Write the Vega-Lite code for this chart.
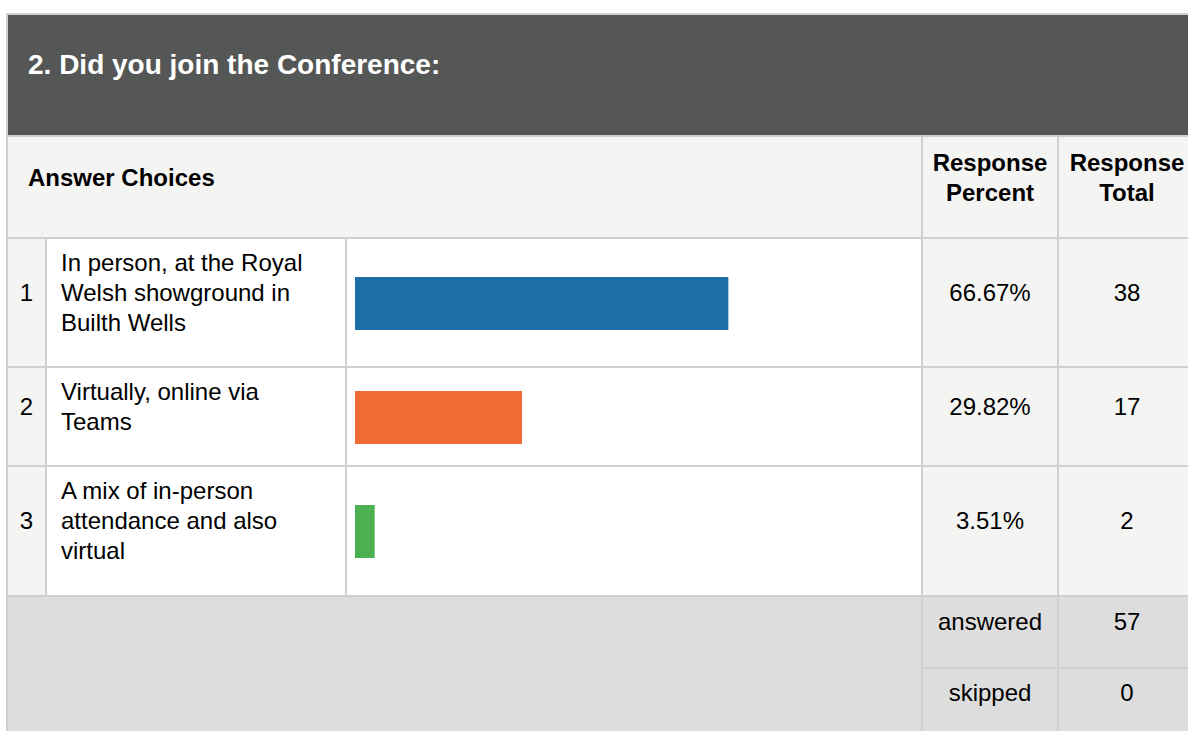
{
  "$schema": "https://vega.github.io/schema/vega-lite/v6.json",
  "width": 1181,
  "height": 717,
  "autosize": {"type": "none"},
  "padding": {"left": 7, "top": 14, "right": 0, "bottom": 0},
  "background": "white",
  "config": {"view": {"stroke": null}, "text": {"font": "Liberation Sans"}},
  "datasets": {
    "grid": [
      {"r0": 0, "r1": 1, "c0": 0, "c1": 5, "kind": "title"},
      {"r0": 1, "r1": 2, "c0": 0, "c1": 3, "kind": "head"},
      {"r0": 1, "r1": 2, "c0": 3, "c1": 4, "kind": "head"},
      {"r0": 1, "r1": 2, "c0": 4, "c1": 5, "kind": "head"},
      {"r0": 2, "r1": 3, "c0": 0, "c1": 1, "kind": "head"},
      {"r0": 2, "r1": 3, "c0": 1, "c1": 2, "kind": "body"},
      {"r0": 2, "r1": 3, "c0": 2, "c1": 3, "kind": "body"},
      {"r0": 2, "r1": 3, "c0": 3, "c1": 4, "kind": "head"},
      {"r0": 2, "r1": 3, "c0": 4, "c1": 5, "kind": "head"},
      {"r0": 3, "r1": 4, "c0": 0, "c1": 1, "kind": "head"},
      {"r0": 3, "r1": 4, "c0": 1, "c1": 2, "kind": "body"},
      {"r0": 3, "r1": 4, "c0": 2, "c1": 3, "kind": "body"},
      {"r0": 3, "r1": 4, "c0": 3, "c1": 4, "kind": "head"},
      {"r0": 3, "r1": 4, "c0": 4, "c1": 5, "kind": "head"},
      {"r0": 4, "r1": 5, "c0": 0, "c1": 1, "kind": "head"},
      {"r0": 4, "r1": 5, "c0": 1, "c1": 2, "kind": "body"},
      {"r0": 4, "r1": 5, "c0": 2, "c1": 3, "kind": "body"},
      {"r0": 4, "r1": 5, "c0": 3, "c1": 4, "kind": "head"},
      {"r0": 4, "r1": 5, "c0": 4, "c1": 5, "kind": "head"},
      {"r0": 5, "r1": 7, "c0": 0, "c1": 3, "kind": "summary"},
      {"r0": 5, "r1": 6, "c0": 3, "c1": 4, "kind": "summary"},
      {"r0": 5, "r1": 6, "c0": 4, "c1": 5, "kind": "summary"},
      {"r0": 6, "r1": 7, "c0": 3, "c1": 4, "kind": "summary"},
      {"r0": 6, "r1": 7, "c0": 4, "c1": 5, "kind": "summary"}
    ],
    "title": [{"r": 0, "text": "2. Did you join the Conference:"}],
    "headLeft": [{"r": 1, "text": "Answer Choices"}],
    "headCenter": [
      {"r": 1, "c": 3, "text": "Response\nPercent"},
      {"r": 1, "c": 4, "text": "Response\nTotal"}
    ],
    "choices": [
      {"row": 2, "id": 1, "choice": "In person, at the Royal\nWelsh showground in\nBuilth Wells", "percent": 0.6667, "total": 38},
      {"row": 3, "id": 2, "choice": "Virtually, online via\nTeams", "percent": 0.2982, "total": 17},
      {"row": 4, "id": 3, "choice": "A mix of in-person\nattendance and also\nvirtual", "percent": 0.0351, "total": 2}
    ],
    "summary": [
      {"r": 5, "label": "answered", "value": 57},
      {"r": 6, "label": "skipped", "value": 0}
    ]
  },
  "resolve": {"scale": {"x": "independent", "y": "independent", "color": "independent"}},
  "layer": [
    {
      "data": {"name": "grid"},
      "mark": {"type": "rect", "stroke": "#d0d0d0", "strokeWidth": 2},
      "encoding": {
        "x": {"field": "c0", "type": "quantitative", "axis": null, "scale": {"domain": [0, 1, 2, 3, 4, 5], "range": [0, 39, 339, 915, 1051, 1189], "zero": false, "nice": false}},
        "x2": {"field": "c1"},
        "y": {"field": "r0", "type": "quantitative", "axis": null, "scale": {"domain": [0, 1, 2, 3, 4, 5, 6, 7], "range": [0, 122, 224, 353, 452, 582, 654, 722], "zero": false, "nice": false}},
        "y2": {"field": "r1"},
        "color": {"field": "kind", "type": "nominal", "legend": null, "scale": {"domain": ["title", "head", "body", "summary"], "range": ["#555756", "#f4f4f3", "#ffffff", "#dddddd"]}}
      }
    },
    {
      "data": {"name": "choices"},
      "mark": {"type": "bar", "height": 53},
      "encoding": {
        "x": {"field": "percent", "type": "quantitative", "axis": null, "scale": {"domain": [0, 1], "range": [348, 908], "nice": false}},
        "y": {"field": "id", "type": "nominal", "axis": null, "scale": {"domain": [1, 2, 3], "range": [232.5, 574.5], "paddingInner": 0, "paddingOuter": 0}},
        "color": {"field": "id", "type": "nominal", "legend": null, "scale": {"domain": [1, 2, 3], "range": ["#1d6ea5", "#f26a35", "#4caf50"]}}
      }
    },
    {
      "data": {"name": "title"},
      "mark": {"type": "text", "align": "left", "baseline": "middle", "fontSize": 28, "fontWeight": "bold", "color": "#ffffff"},
      "encoding": {
        "text": {"field": "text"},
        "x": {"datum": 0, "type": "quantitative", "axis": null, "scale": {"domain": [0, 1], "range": [21, 54], "nice": false, "zero": false}},
        "y": {"field": "r", "type": "quantitative", "axis": null, "scale": {"domain": [0, 1, 2, 3, 4, 5, 6], "range": [51.5, 164.5, 279.5, 394, 507.5, 608.5, 679.5], "zero": false, "nice": false}}
      }
    },
    {
      "data": {"name": "headLeft"},
      "mark": {"type": "text", "align": "left", "baseline": "middle", "fontSize": 24, "fontWeight": "bold", "color": "#000000"},
      "encoding": {
        "text": {"field": "text"},
        "x": {"datum": 0, "type": "quantitative", "axis": null, "scale": {"domain": [0, 1], "range": [21, 54], "nice": false, "zero": false}},
        "y": {"field": "r", "type": "quantitative", "axis": null, "scale": {"domain": [0, 1, 2, 3, 4, 5, 6], "range": [51.5, 164.5, 279.5, 394, 507.5, 608.5, 679.5], "zero": false, "nice": false}}
      }
    },
    {
      "data": {"name": "headCenter"},
      "mark": {"type": "text", "align": "center", "baseline": "middle", "fontSize": 24, "fontWeight": "bold", "color": "#000000", "lineBreak": "\n", "lineHeight": 30},
      "encoding": {
        "text": {"field": "text"},
        "x": {"field": "c", "type": "quantitative", "axis": null, "scale": {"domain": [0, 3, 4], "range": [19.5, 983, 1120], "nice": false, "zero": false}},
        "y": {"field": "r", "type": "quantitative", "axis": null, "scale": {"domain": [1, 2, 3, 4], "range": [149.5, 249.5, 378.5, 477.5], "zero": false, "nice": false}}
      }
    },
    {
      "data": {"name": "choices"},
      "mark": {"type": "text", "align": "left", "baseline": "middle", "fontSize": 24, "color": "#000000", "lineBreak": "\n", "lineHeight": 30},
      "encoding": {
        "text": {"field": "choice"},
        "x": {"datum": 1, "type": "quantitative", "axis": null, "scale": {"domain": [0, 1], "range": [21, 54], "nice": false, "zero": false}},
        "y": {"field": "row", "type": "quantitative", "axis": null, "scale": {"domain": [1, 2, 3, 4], "range": [149.5, 249.5, 378.5, 477.5], "zero": false, "nice": false}}
      }
    },
    {
      "data": {"name": "choices"},
      "mark": {"type": "text", "align": "center", "baseline": "middle", "fontSize": 24, "color": "#000000"},
      "encoding": {
        "text": {"field": "id"},
        "x": {"datum": 0, "type": "quantitative", "axis": null, "scale": {"domain": [0, 3, 4], "range": [19.5, 983, 1120], "nice": false, "zero": false}},
        "y": {"field": "row", "type": "quantitative", "axis": null, "scale": {"domain": [0, 1, 2, 3, 4, 5, 6], "range": [51.5, 164.5, 279.5, 394, 507.5, 608.5, 679.5], "zero": false, "nice": false}}
      }
    },
    {
      "data": {"name": "choices"},
      "mark": {"type": "text", "align": "center", "baseline": "middle", "fontSize": 24, "color": "#000000"},
      "encoding": {
        "text": {"field": "percent", "format": ".2%"},
        "x": {"datum": 3, "type": "quantitative", "axis": null, "scale": {"domain": [0, 3, 4], "range": [19.5, 983, 1120], "nice": false, "zero": false}},
        "y": {"field": "row", "type": "quantitative", "axis": null, "scale": {"domain": [0, 1, 2, 3, 4, 5, 6], "range": [51.5, 164.5, 279.5, 394, 507.5, 608.5, 679.5], "zero": false, "nice": false}}
      }
    },
    {
      "data": {"name": "choices"},
      "mark": {"type": "text", "align": "center", "baseline": "middle", "fontSize": 24, "color": "#000000"},
      "encoding": {
        "text": {"field": "total"},
        "x": {"datum": 4, "type": "quantitative", "axis": null, "scale": {"domain": [0, 3, 4], "range": [19.5, 983, 1120], "nice": false, "zero": false}},
        "y": {"field": "row", "type": "quantitative", "axis": null, "scale": {"domain": [0, 1, 2, 3, 4, 5, 6], "range": [51.5, 164.5, 279.5, 394, 507.5, 608.5, 679.5], "zero": false, "nice": false}}
      }
    },
    {
      "data": {"name": "summary"},
      "mark": {"type": "text", "align": "center", "baseline": "middle", "fontSize": 24, "color": "#000000"},
      "encoding": {
        "text": {"field": "label"},
        "x": {"datum": 3, "type": "quantitative", "axis": null, "scale": {"domain": [0, 3, 4], "range": [19.5, 983, 1120], "nice": false, "zero": false}},
        "y": {"field": "r", "type": "quantitative", "axis": null, "scale": {"domain": [0, 1, 2, 3, 4, 5, 6], "range": [51.5, 164.5, 279.5, 394, 507.5, 608.5, 679.5], "zero": false, "nice": false}}
      }
    },
    {
      "data": {"name": "summary"},
      "mark": {"type": "text", "align": "center", "baseline": "middle", "fontSize": 24, "color": "#000000"},
      "encoding": {
        "text": {"field": "value"},
        "x": {"datum": 4, "type": "quantitative", "axis": null, "scale": {"domain": [0, 3, 4], "range": [19.5, 983, 1120], "nice": false, "zero": false}},
        "y": {"field": "r", "type": "quantitative", "axis": null, "scale": {"domain": [0, 1, 2, 3, 4, 5, 6], "range": [51.5, 164.5, 279.5, 394, 507.5, 608.5, 679.5], "zero": false, "nice": false}}
      }
    }
  ]
}
